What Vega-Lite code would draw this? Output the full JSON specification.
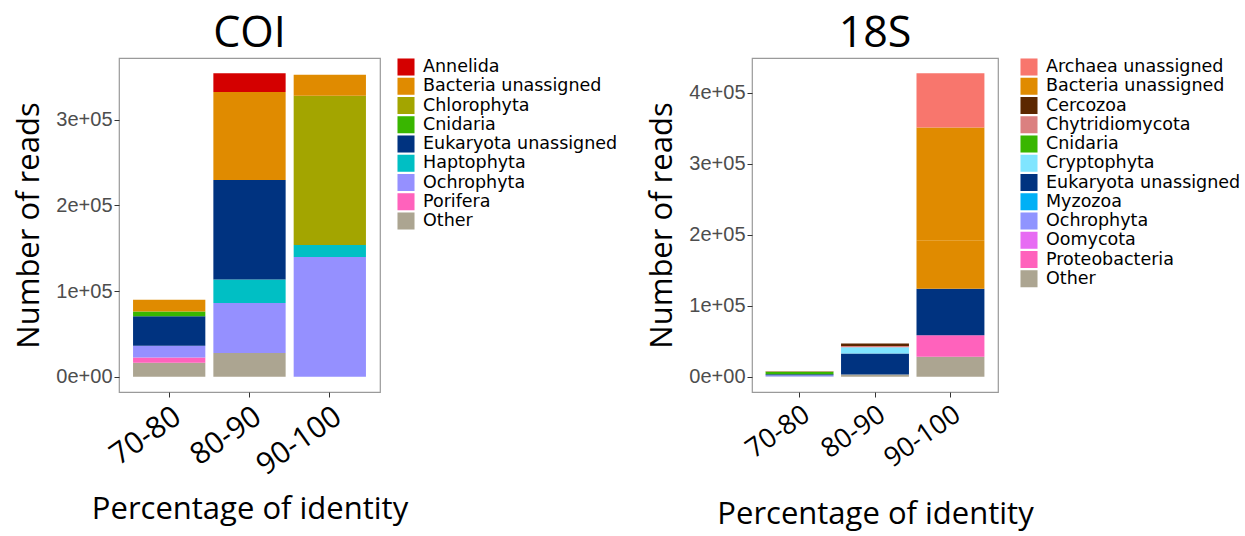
{
  "$schema": "https://vega.github.io/schema/vega-lite/v6.json",
  "background": "white",
  "padding": {"left": 13, "top": 12, "right": 2, "bottom": 5},
  "datasets": {
    "coi": [
      {"identity": "70-80", "taxon": "Other", "reads": 16400, "k": 0},
      {"identity": "70-80", "taxon": "Porifera", "reads": 6300, "k": 1},
      {"identity": "70-80", "taxon": "Ochrophyta", "reads": 13600, "k": 2},
      {"identity": "70-80", "taxon": "Eukaryota unassigned", "reads": 34400, "k": 4},
      {"identity": "70-80", "taxon": "Cnidaria", "reads": 5500, "k": 5},
      {"identity": "70-80", "taxon": "Bacteria unassigned", "reads": 13700, "k": 7},
      {"identity": "80-90", "taxon": "Other", "reads": 27700, "k": 0},
      {"identity": "80-90", "taxon": "Ochrophyta", "reads": 58600, "k": 2},
      {"identity": "80-90", "taxon": "Haptophyta", "reads": 27400, "k": 3},
      {"identity": "80-90", "taxon": "Eukaryota unassigned", "reads": 116100, "k": 4},
      {"identity": "80-90", "taxon": "Bacteria unassigned", "reads": 102700, "k": 7},
      {"identity": "80-90", "taxon": "Annelida", "reads": 21900, "k": 8},
      {"identity": "90-100", "taxon": "Ochrophyta", "reads": 139900, "k": 2},
      {"identity": "90-100", "taxon": "Haptophyta", "reads": 14100, "k": 3},
      {"identity": "90-100", "taxon": "Chlorophyta", "reads": 173900, "k": 6},
      {"identity": "90-100", "taxon": "Bacteria unassigned", "reads": 24600, "k": 7}
    ],
    "s18": [
      {"identity": "70-80", "taxon": "Other", "reads": 500, "k": 0},
      {"identity": "70-80", "taxon": "Ochrophyta", "reads": 1700, "k": 3},
      {"identity": "70-80", "taxon": "Eukaryota unassigned", "reads": 1500, "k": 5},
      {"identity": "70-80", "taxon": "Cnidaria", "reads": 3800, "k": 7},
      {"identity": "70-80", "taxon": "Chytridiomycota", "reads": 800, "k": 8},
      {"identity": "80-90", "taxon": "Other", "reads": 3300, "k": 0},
      {"identity": "80-90", "taxon": "Eukaryota unassigned", "reads": 29700, "k": 5},
      {"identity": "80-90", "taxon": "Cryptophyta", "reads": 8500, "k": 6},
      {"identity": "80-90", "taxon": "Chytridiomycota", "reads": 1800, "k": 8},
      {"identity": "80-90", "taxon": "Cercozoa", "reads": 3500, "k": 9},
      {"identity": "90-100", "taxon": "Other", "reads": 28200, "k": 0},
      {"identity": "90-100", "taxon": "Proteobacteria", "reads": 30500, "k": 1},
      {"identity": "90-100", "taxon": "Eukaryota unassigned", "reads": 65200, "k": 5},
      {"identity": "90-100", "taxon": "Bacteria unassigned", "reads": 67600, "k": 10},
      {"identity": "90-100", "taxon": "Bacteria unassigned", "reads": 159700, "k": 10.5},
      {"identity": "90-100", "taxon": "Archaea unassigned", "reads": 76500, "k": 11}
    ]
  },
  "config": {
    "view": {"stroke": "#9a9a9a", "strokeWidth": 1.2},
    "axis": {
      "grid": false,
      "domain": false,
      "tickColor": "#333333",
      "tickSize": 5,
      "labelColor": "#4d4d4d",
      "labelFont": "Liberation Sans",
      "labelFontSize": 20,
      "titleFont": "Open Sans",
      "titleFontWeight": "normal",
      "titleFontSize": 31,
      "titleColor": "black"
    },
    "legend": {
      "title": null,
      "symbolType": "square",
      "symbolSize": 290,
      "symbolStrokeWidth": 0,
      "labelFont": "DejaVu Sans",
      "labelFontSize": 17.5,
      "labelColor": "black",
      "labelLimit": 400,
      "rowPadding": 1.25,
      "offset": 17,
      "labelOffset": 8
    },
    "title": {"font": "Open Sans", "fontSize": 43, "fontWeight": "normal", "color": "black", "offset": 2}
  },
  "resolve": {"scale": {"color": "independent", "y": "independent"}, "legend": {"color": "independent"}},
  "spacing": 27,
  "hconcat": [
    {
      "title": "COI",
      "width": 261,
      "height": 334,
      "data": {"name": "coi"},
      "mark": {"type": "bar"},
      "encoding": {
        "x": {
          "field": "identity", "type": "nominal", "title": "Percentage of identity",
          "scale": {"paddingInner": 0.1, "paddingOuter": 0.175},
          "axis": {"labelAngle": -35, "labelFont": "Open Sans", "labelFontSize": 30, "labelColor": "black", "labelPadding": 4, "titlePadding": 14}
        },
        "y": {
          "field": "reads", "type": "quantitative", "aggregate": "sum", "stack": "zero", "title": "Number of reads",
          "scale": {"domain": [-17700, 372100], "nice": false, "zero": false},
          "axis": {"values": [0, 100000, 200000, 300000], "labelExpr": "datum.value == 0 ? '0e+00' : format(datum.value/100000, 'd') + 'e+05'", "titlePadding": 10}
        },
        "color": {
          "field": "taxon", "type": "nominal",
          "scale": {
            "domain": ["Annelida", "Bacteria unassigned", "Chlorophyta", "Cnidaria", "Eukaryota unassigned", "Haptophyta", "Ochrophyta", "Porifera", "Other"],
            "range": ["#d40000", "#e08b00", "#a3a500", "#39b600", "#003380", "#00bfc4", "#9590ff", "#ff62bc", "#aca591"]
          },
          "legend": {"offset": 17}
        },
        "order": {"field": "k", "type": "quantitative", "sort": "ascending"}
      }
    },
    {
      "title": "18S",
      "width": 246,
      "height": 334,
      "data": {"name": "s18"},
      "mark": {"type": "bar"},
      "encoding": {
        "x": {
          "field": "identity", "type": "nominal", "title": "Percentage of identity",
          "scale": {"paddingInner": 0.1, "paddingOuter": 0.18},
          "axis": {"labelAngle": -35, "labelFont": "Open Sans", "labelFontSize": 27, "labelColor": "black", "labelPadding": 4, "titlePadding": 28}
        },
        "y": {
          "field": "reads", "type": "quantitative", "stack": "zero", "title": "Number of reads",
          "scale": {"domain": [-21400, 449100], "nice": false, "zero": false},
          "axis": {"values": [0, 100000, 200000, 300000, 400000], "labelExpr": "datum.value == 0 ? '0e+00' : format(datum.value/100000, 'd') + 'e+05'", "titlePadding": 10}
        },
        "color": {
          "field": "taxon", "type": "nominal",
          "scale": {
            "domain": ["Archaea unassigned", "Bacteria unassigned", "Cercozoa", "Chytridiomycota", "Cnidaria", "Cryptophyta", "Eukaryota unassigned", "Myzozoa", "Ochrophyta", "Oomycota", "Proteobacteria", "Other"],
            "range": ["#f8766d", "#e08b00", "#5c2700", "#db8080", "#39b600", "#80e5ff", "#003380", "#00b0f6", "#8f94ff", "#e76bf3", "#ff62bc", "#aca591"]
          },
          "legend": {"offset": 22}
        },
        "order": {"field": "k", "type": "quantitative", "sort": "ascending"}
      }
    }
  ]
}
